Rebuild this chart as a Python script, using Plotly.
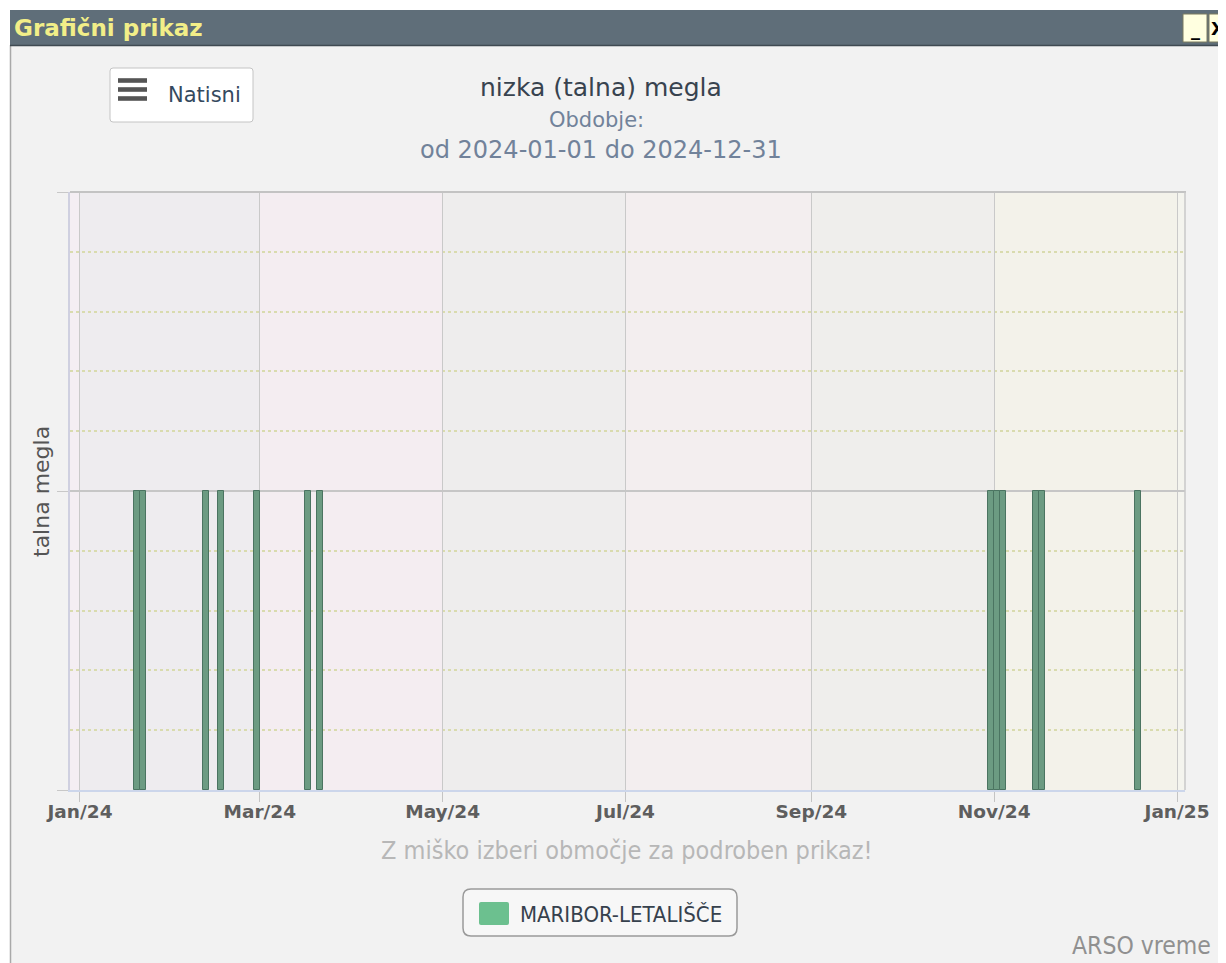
import plotly.graph_objects as go

OX, OY = 8, 8  # page body margin of the html page
W, H = 1226 - OX, 963 - OY

# ---------------- data ----------------
fog_dates = ["2024-01-20", "2024-01-22", "2024-02-12", "2024-02-17", "2024-02-29",
             "2024-03-17", "2024-03-21", "2024-10-31", "2024-11-02", "2024-11-04",
             "2024-11-15", "2024-11-17", "2024-12-19"]
fog_values = [1, 1, 1, 1, 1, 1, 1, 1, 1, 1, 1, 1, 1]
series_name = "MARIBOR-LETALIŠČE"

tick_dates = ["2024-01-01", "2024-03-01", "2024-05-01", "2024-07-01",
              "2024-09-01", "2024-11-01", "2025-01-01"]
tick_labels = ["Jan/24", "Mar/24", "May/24", "Jul/24", "Sep/24", "Nov/24", "Jan/25"]

title_text = "nizka (talna) megla"
subtitle_1 = "Obdobje:"
subtitle_2 = "od 2024-01-01 do 2024-12-31"
y_title = "talna megla"
hint_text = "Z miško izberi območje za podroben prikaz!"
credits_text = "ARSO vreme"
window_title = "Grafični prikaz"
print_label = "Natisni"

# ---------------- layout helpers ----------------
X_RANGE = ["2023-12-28 16:00", "2025-01-03 16:00"]
PL, PR, PT, PB = 70, 1185, 192, 790


def px(x):
    return (x - OX) / W


def py(y):
    return 1 - (y - OY) / H


band_edges = [X_RANGE[0]] + tick_dates + [X_RANGE[1]]
band_colors = ["#f4eef3", "#eeecef", "#f4edf1", "#eeeded", "#f3eeef",
               "#efeeec", "#f3f2ea", "#f4f4ee"]

LUCIDA = "DejaVu Sans, Lato, sans-serif"
NARROW = "DejaVu Sans Condensed, Liberation Sans Narrow, Liberation Sans, sans-serif"

fig = go.Figure()
fig.add_trace(go.Bar(
    x=fog_dates, y=fog_values, name=series_name,
    width=1.9 * 86400000,
    marker=dict(color="#6c9b82", line=dict(color="#4b7461", width=1)),
    showlegend=False,
))

shapes = []
# page background and window frame
shapes.append(dict(type="rect", xref="paper", yref="paper", x0=px(10), x1=px(1240), y0=py(980), y1=py(45),
                   fillcolor="#f2f2f2", line=dict(width=0), layer="below"))
shapes.append(dict(type="line", xref="paper", yref="paper", x0=px(10.5), x1=px(10.5), y0=py(980), y1=py(45),
                   line=dict(color="#a9a9a9", width=1.5), layer="below"))
shapes.append(dict(type="rect", xref="paper", yref="paper", x0=px(10), x1=px(1240), y0=py(45), y1=py(10),
                   fillcolor="#5f6e79", line=dict(width=0)))
shapes.append(dict(type="line", xref="paper", yref="paper", x0=px(10), x1=px(1240), y0=py(45.5), y1=py(45.5),
                   line=dict(color="#3f4a52", width=1.5)))
# window buttons
for bx0, bx1 in [(1183, 1207), (1209, 1232)]:
    shapes.append(dict(type="rect", xref="paper", yref="paper", x0=px(bx0), x1=px(bx1),
                       y0=py(42), y1=py(14), fillcolor="#ffffe0", line=dict(color="#7a7a60", width=1)))

# plot bands
for i in range(len(band_colors)):
    shapes.append(dict(type="rect", xref="x", yref="paper", x0=band_edges[i], x1=band_edges[i + 1],
                       y0=py(PB), y1=py(PT), fillcolor=band_colors[i], line=dict(width=0), layer="below"))
# plot frame
shapes.append(dict(type="line", xref="paper", yref="paper", x0=px(PL), x1=px(PR + 1), y0=py(PT), y1=py(PT),
                   line=dict(color="#c3c3c3", width=2)))
shapes.append(dict(type="line", xref="paper", yref="paper", x0=px(PR), x1=px(PR), y0=py(PB), y1=py(PT),
                   line=dict(color="#c8c8c8", width=1.5)))


def rrect(x0, y0, x1, y1, r):
    X0, X1 = px(x0), px(x1)
    Y0, Y1 = py(y0), py(y1)
    rx, ry = r / W, r / H
    return (f"M {X0 + rx},{Y0} L {X1 - rx},{Y0} Q {X1},{Y0} {X1},{Y0 - ry} "
            f"L {X1},{Y1 + ry} Q {X1},{Y1} {X1 - rx},{Y1} L {X0 + rx},{Y1} "
            f"Q {X0},{Y1} {X0},{Y1 + ry} L {X0},{Y0 - ry} Q {X0},{Y0} {X0 + rx},{Y0} Z")


# Natisni button
shapes.append(dict(type="path", xref="paper", yref="paper", path=rrect(110, 68, 253, 122, 3),
                   fillcolor="#ffffff", line=dict(color="#c4c4c4", width=1)))
for yy in (80.5, 89.5, 98.5):
    shapes.append(dict(type="rect", xref="paper", yref="paper", x0=px(118), x1=px(147),
                       y0=py(yy + 2.3), y1=py(yy - 2.3), fillcolor="#555555", line=dict(width=0)))

# legend box
shapes.append(dict(type="path", xref="paper", yref="paper", path=rrect(463, 889, 737, 936, 8),
                   fillcolor="#f7f7f7", line=dict(color="#9a9a9a", width=1.5)))
shapes.append(dict(type="path", xref="paper", yref="paper", path=rrect(479, 902, 509, 925, 2),
                   fillcolor="#6cc08f", line=dict(width=0)))

annotations = [
    dict(text=window_title, x=px(12), y=py(28), xanchor="left", yanchor="middle",
         font=dict(family=LUCIDA, size=23, color="#f2ee88", weight="bold")),
    dict(text="_", x=px(1195), y=py(30), xanchor="center", yanchor="middle",
         font=dict(family=LUCIDA, size=18, color="#000", weight="bold")),
    dict(text="X", x=px(1218), y=py(28), xanchor="center", yanchor="middle",
         font=dict(family=LUCIDA, size=18, color="#000", weight="bold")),
    dict(text=print_label, x=px(166), y=py(95), xanchor="left", yanchor="middle",
         font=dict(family=LUCIDA, size=21, color="#34495e")),
    dict(text=title_text, x=px(601), y=py(88), xanchor="center", yanchor="middle",
         font=dict(family=LUCIDA, size=25, color="#38434f")),
    dict(text=subtitle_1, x=px(596), y=py(120), xanchor="center", yanchor="middle",
         font=dict(family=LUCIDA, size=21, color="#71829a")),
    dict(text=subtitle_2, x=px(601), y=py(150), xanchor="center", yanchor="middle",
         font=dict(family=LUCIDA, size=24, color="#71829a")),
    dict(text=y_title, x=px(42), y=py(492), xanchor="center", yanchor="middle", textangle=-90,
         font=dict(family=LUCIDA, size=22, color="#555555")),
    dict(text=hint_text, x=px(627), y=py(850), xanchor="center", yanchor="middle",
         font=dict(family=NARROW, size=25, color="#b7b7b7")),
    dict(text=series_name, x=px(518), y=py(914), xanchor="left", yanchor="middle",
         font=dict(family=NARROW, size=22, color="#36414d")),
    dict(text=credits_text, x=px(1213), y=py(945), xanchor="right", yanchor="middle",
         font=dict(family=NARROW, size=24.5, color="#909090")),
]
for a in annotations:
    a.update(xref="paper", yref="paper", showarrow=False)

fig.update_layout(
    width=W, height=H,
    margin=dict(l=0, r=0, t=0, b=0, pad=0, autoexpand=False),
    paper_bgcolor="#ffffff",
    plot_bgcolor="rgba(0,0,0,0)",
    bargap=0,
    shapes=shapes,
    annotations=annotations,
    showlegend=False,
    xaxis=dict(
        type="date", range=X_RANGE, domain=[px(PL), px(PR)],
        tickvals=tick_dates, ticktext=tick_labels, automargin=False,
        showgrid=True, gridcolor="#c9c9c9", gridwidth=1,
        ticks="outside", ticklen=10, tickcolor="#c4c4c4", ticklabelstandoff=-6,
        tickfont=dict(family=LUCIDA, size=18.5, color="#5e5e5e", weight="bold"),
        showline=True, linecolor="#ccd6eb", linewidth=1.5, zeroline=False,
        fixedrange=True,
    ),
    yaxis=dict(
        range=[0, 2], domain=[py(PB), py(PT)], automargin=False,
        tick0=0, dtick=1, showticklabels=False,
        ticks="outside", ticklen=11, tickcolor="#c8c8c8",
        showgrid=True, gridcolor="#c6c6c6", gridwidth=1.5,
        minor=dict(dtick=0.2, showgrid=True, gridcolor="#d9dbae", griddash="dot", gridwidth=1.5),
        showline=True, linecolor="#cfd0e0", linewidth=1.5, zeroline=False,
        fixedrange=True,
    ),
)

fig.write_html("out.html")
